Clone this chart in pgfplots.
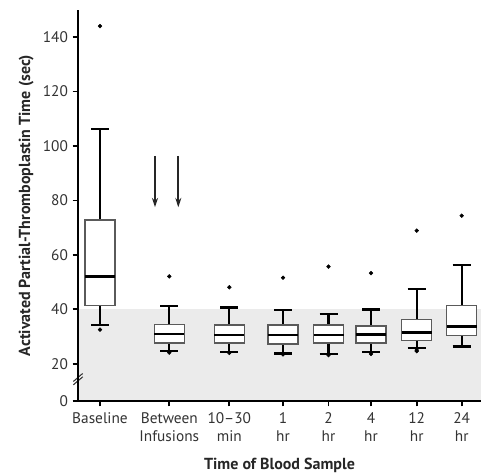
\documentclass[border=0pt]{standalone}
\usepackage{fontspec}
\setmainfont{PT Sans}
\usepackage{pgfplots}
\pgfplotsset{compat=1.18}
\usepgfplotslibrary{statistics}
\usetikzlibrary{arrows.meta}
\definecolor{cBand}{HTML}{EBEBEB}
\definecolor{cBox}{HTML}{5A5A5A}
\definecolor{cTxt}{HTML}{333333}
\pgfplotsset{
  aptt/.style={
    black, solid,
    boxplot/draw direction=y,
    boxplot/box extend=30,
    boxplot/whisker extend=18,
    boxplot/every box/.style={draw=cBox, fill=white, line width=1.1pt, solid},
    boxplot/every whisker/.style={draw=black, line width=1.7pt, solid},
    boxplot/every median/.style={draw=black, line width=2pt, solid},
    mark=*, mark size=1.4pt, mark options={black, fill=black, solid},
  },
}
\begin{document}
\begin{tikzpicture}
\begin{axis}[
    name=ax,
    scale only axis, width=302.25pt, height=293.25pt,
    xmin=78, xmax=481, ymin=6.3, ymax=150,
    axis x line*=bottom, axis y line*=left,
    axis line style={line width=1.5pt, black},
    axis on top,
    tick align=outside, major tick length=4pt,
    tick style={line width=1.3pt, black},
    xtick={100,169.3,229.3,283,328.5,371,416.7,461.7},
    xticklabels={Baseline,Between\\Infusions,10--30\\min,1\\hr,2\\hr,4\\hr,12\\hr,24\\hr},
    xticklabel style={align=center, anchor=north, yshift=-1pt},
    ytick={6.3,20,40,60,80,100,120,140},
    yticklabels={0,20,40,60,80,100,120,140},
    /pgf/number format/assume math mode=true,
    tick label style={font=\fontsize{11.5}{13.5}\selectfont, text=cTxt},
    xlabel={\textbf{Time of Blood Sample}},
    ylabel={\textbf{Activated Partial-Thromboplastin Time (sec)}},
    label style={font=\fontsize{12}{13}\selectfont, text=black!85},
    xlabel style={yshift=-5.5pt},
    ylabel style={yshift=0pt},
    clip=false,
]
% normal range band
\fill[cBand] (axis cs:78,6.3) rectangle (axis cs:481,40);

\addplot[aptt, boxplot prepared={draw position=100, lower whisker=34.3, lower quartile=41.4,
  median=52.1, upper quartile=72.8, upper whisker=106.3}] coordinates {(0,144.1) (0,32.5)};
\addplot[aptt, boxplot prepared={draw position=169.3, lower whisker=24.6, lower quartile=27.6,
  median=30.9, upper quartile=34.4, upper whisker=41.3}] coordinates {(0,52.1) (0,24.1)};
\addplot[aptt, boxplot prepared={draw position=229.3, lower whisker=24.4, lower quartile=27.7,
  median=30.6, upper quartile=34.3, upper whisker=40.7}] coordinates {(0,48.1) (0,24.0)};
\addplot[aptt, boxplot prepared={draw position=283, lower whisker=23.8, lower quartile=27.2,
  median=30.5, upper quartile=34.3, upper whisker=39.8}] coordinates {(0,51.6) (0,23.4)};
\addplot[aptt, boxplot prepared={draw position=328.5, lower whisker=23.7, lower quartile=27.6,
  median=30.5, upper quartile=34.2, upper whisker=38.3}] coordinates {(0,55.7) (0,23.2)};
\addplot[aptt, boxplot prepared={draw position=371, lower whisker=24.3, lower quartile=27.6,
  median=30.8, upper quartile=33.9, upper whisker=39.9}] coordinates {(0,53.3) (0,23.6)};
\addplot[aptt, boxplot prepared={draw position=416.7, lower whisker=25.7, lower quartile=28.6,
  median=31.4, upper quartile=36.3, upper whisker=47.5}] coordinates {(0,68.9) (0,25.0) (0,24.6)};
\addplot[aptt, boxplot prepared={draw position=461.7, lower whisker=26.3, lower quartile=30.3,
  median=33.8, upper quartile=41.4, upper whisker=56.3}] coordinates {(0,74.4)};

% infusion arrows
\draw[line width=1.4pt, black!85, -{Stealth[length=7pt, width=4.5pt]}] (axis cs:155,96.4) -- (axis cs:155,77.5);
\draw[line width=1.4pt, black!85, -{Stealth[length=7pt, width=4.5pt]}] (axis cs:178.3,96.4) -- (axis cs:178.3,77.5);

% axis break
\fill[white] ([xshift=-3pt,yshift=-3.5pt]axis cs:78,14.2) -- ([xshift=3pt,yshift=1.5pt]axis cs:78,14.2)
  -- ([xshift=3pt,yshift=4pt]axis cs:78,14.2) -- ([xshift=-3pt,yshift=-1pt]axis cs:78,14.2) -- cycle;
\draw[line width=0.8pt, black!80] ([xshift=-3.5pt,yshift=-4pt]axis cs:78,14.2) -- ([xshift=3.5pt,yshift=2pt]axis cs:78,14.2);
\draw[line width=0.8pt, black!80] ([xshift=-3.5pt,yshift=-1.5pt]axis cs:78,14.2) -- ([xshift=3.5pt,yshift=4.5pt]axis cs:78,14.2);
\end{axis}
\pgfresetboundingbox
\path[use as bounding box] ([xshift=-58.5pt,yshift=-55.5pt]ax.south west) rectangle ([yshift=7.5pt]ax.north east);
\end{tikzpicture}
\end{document}
